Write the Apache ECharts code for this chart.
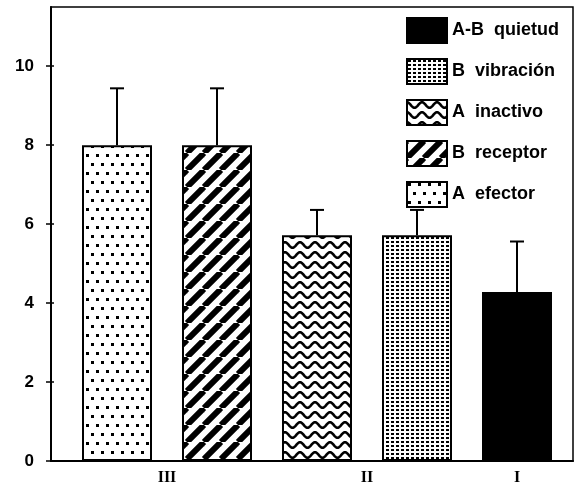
<!DOCTYPE html>
<html>
<head>
<meta charset="utf-8">
<script src="https://cdn.jsdelivr.net/npm/echarts@6/dist/echarts.min.js"></script>
<style>
  html, body { margin: 0; padding: 0; background: #fff; }
  #chart { width: 575px; height: 486px; }
</style>
</head>
<body>
<div id="chart"></div>
<script>
// datos
var seriesNames = ['A  efector', 'B  receptor', 'A  inactivo', 'B  vibración', 'A-B  quietud'];
var legendOrder = ['A-B  quietud', 'B  vibración', 'A  inactivo', 'B  receptor', 'A  efector'];
var barPositions = [1, 2, 3, 4, 5];
var barValues = [8.0, 8.0, 5.72, 5.72, 4.28];
var errorTops = [9.44, 9.44, 6.36, 6.36, 5.56];
var barGroups = ['III', 'III', 'II', 'II', 'I'];
var groupLabels = ['III', 'II', 'I'];
var yTicks = [0, 2, 4, 6, 8, 10];

// centro de cada grupo (III, II, I) a partir de las barras
var groupCenters = groupLabels.map(function (g) {
  var s = 0, n = 0;
  barGroups.forEach(function (b, i) { if (b === g) { s += barPositions[i]; n++; } });
  return s / n;
});

// tramas en blanco y negro
function makeTile(w, h, draw) {
  var c = document.createElement('canvas');
  c.width = w; c.height = h;
  var ctx = c.getContext('2d');
  ctx.fillStyle = '#fff';
  ctx.fillRect(0, 0, w, h);
  ctx.fillStyle = '#000';
  ctx.strokeStyle = '#000';
  draw(ctx, w, h);
  return { image: c, repeat: 'repeat' };
}
var sparseDots = makeTile(10, 18, function (ctx) {
  ctx.fillRect(1, 1, 3, 3);
  ctx.fillRect(6, 10, 3, 3);
});
var stripes = makeTile(17, 17, function (ctx, w, h) {
  ctx.lineWidth = 6;
  [-w, 0, w].forEach(function (o) {
    ctx.beginPath(); ctx.moveTo(o, h); ctx.lineTo(o + w, 0); ctx.stroke();
  });
});
var waves = makeTile(15, 10, function (ctx, w, h) {
  ctx.lineWidth = 2.6;
  ctx.beginPath();
  for (var x = -1; x <= w + 1; x += 0.5) {
    var y = 5 - 2.8 * Math.cos(2 * Math.PI * x / w);
    if (x === -1) ctx.moveTo(x, y); else ctx.lineTo(x, y);
  }
  ctx.stroke();
});
var denseDots = makeTile(5, 4, function (ctx) {
  ctx.fillRect(1, 1, 3, 2);
});
var fills = [sparseDots, stripes, waves, denseDots, '#000'];

var chart = echarts.init(document.getElementById('chart'));

var series = seriesNames.map(function (name, i) {
  return {
    name: name,
    type: 'bar',
    barWidth: 70,
    barGap: '-100%',
    data: [[barPositions[i], barValues[i]]],
    itemStyle: { color: fills[i], borderColor: '#000', borderWidth: 2 }
  };
});
series.push({
  type: 'custom',
  name: 'error',
  z: 5,
  data: barPositions.map(function (p, i) { return [p, barValues[i], errorTops[i]]; }),
  encode: { x: 0, y: [1, 2] },
  renderItem: function (params, api) {
    var base = api.coord([api.value(0), api.value(1)]);
    var top = api.coord([api.value(0), api.value(2)]);
    return {
      type: 'group',
      children: [
        { type: 'line', shape: { x1: base[0], y1: base[1], x2: top[0], y2: top[1] },
          style: { stroke: '#000', lineWidth: 2 } },
        { type: 'line', shape: { x1: top[0] - 7, y1: top[1], x2: top[0] + 7, y2: top[1] },
          style: { stroke: '#000', lineWidth: 2 } }
      ]
    };
  }
});

var option = {
  animation: false,
  backgroundColor: '#fff',
  grid: { left: 51, right: 2, top: 7, bottom: 25, show: true, borderColor: '#000', borderWidth: 1.5 },
  legend: {
    data: legendOrder,
    orient: 'vertical',
    left: 406,
    top: 17,
    padding: 0,
    icon: 'rect',
    itemWidth: 40,
    itemHeight: 25,
    itemGap: 14,
    textStyle: { color: '#000', fontSize: 18, fontWeight: 'bold', fontFamily: 'Liberation Sans' }
  },
  xAxis: {
    type: 'value',
    min: 0.34,
    max: 5.56,
    splitLine: { show: false },
    axisLine: { lineStyle: { color: '#000', width: 2 } },
    axisTick: { show: false },
    axisLabel: {
      customValues: groupCenters,
      margin: 9,
      color: '#000',
      fontSize: 16,
      fontWeight: 'bold',
      fontFamily: 'Liberation Serif',
      formatter: function (v) {
        for (var i = 0; i < groupCenters.length; i++) {
          if (Math.abs(groupCenters[i] - v) < 1e-6) return groupLabels[i];
        }
        return '';
      }
    }
  },
  yAxis: [{
    type: 'value',
    min: 0,
    max: 11.5,
    splitLine: { show: false },
    axisLine: { show: true, lineStyle: { color: '#000', width: 2 } },
    axisTick: { show: true, customValues: yTicks, length: 5, lineStyle: { color: '#000', width: 1.5 } },
    axisLabel: { customValues: yTicks, margin: 17, color: '#000', fontSize: 17, fontWeight: 'bold', fontFamily: 'Liberation Sans' }
  }, {
    type: 'value',
    min: 0,
    max: 11.5,
    position: 'left',
    splitLine: { show: false },
    axisLine: { show: false },
    axisTick: { show: true, inside: true, customValues: yTicks, length: 3, lineStyle: { color: '#000', width: 1.5 } },
    axisLabel: { show: false }
  }],
  series: series
};

chart.setOption(option);
</script>
</body>
</html>
